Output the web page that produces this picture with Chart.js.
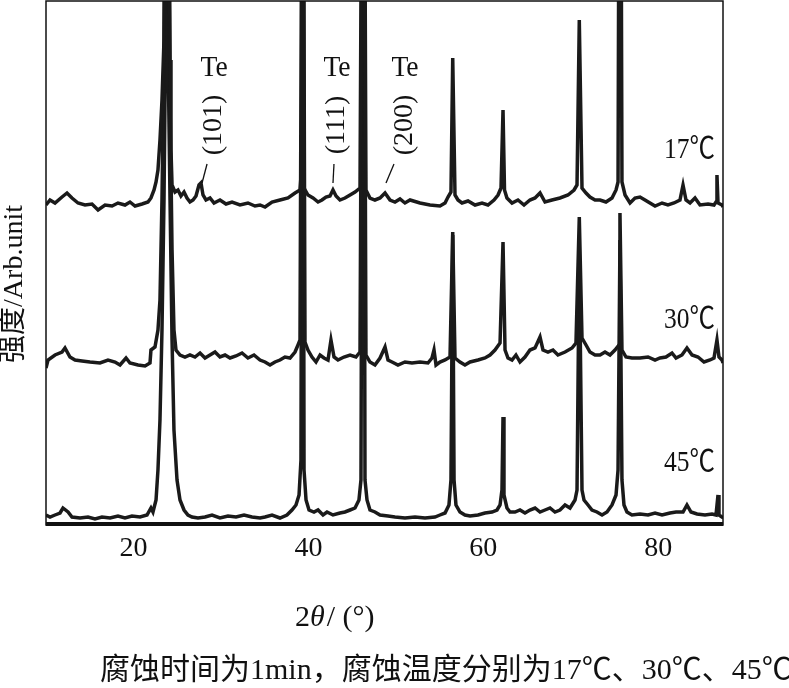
<!DOCTYPE html>
<html>
<head>
<meta charset="utf-8">
<script src="https://cdn.jsdelivr.net/npm/chart.js@4.4.0/dist/chart.umd.min.js"></script>
<style>
  html, body { margin: 0; padding: 0; background: #fff; }
</style>
</head>
<body>
<canvas id="xrd" width="789" height="688"></canvas>
<script>
// tick labels on the 2theta axis
const xTickValues = [20, 40, 60, 80];
const sampleLabels = ['17℃', '30℃', '45℃'];
const tePeaks = [27.84, 42.81, 48.87];
const teIndex = ['(101)', '(111)', '(200)'];
const yTitle = '强度/Arb.unit';
const caption = '腐蚀时间为1min，腐蚀温度分别为17℃、30℃、45℃';

// [2theta, intensity], traces already stacked
const pattern17 = [
  [10.00, 320], [10.46, 325], [11.03, 322], [11.83, 328], [12.40, 332], [12.97, 327], [13.66, 322],
  [14.46, 320], [15.26, 321], [15.95, 315], [16.75, 320], [17.55, 319], [18.23, 322], [19.03, 320],
  [19.60, 323], [20.18, 319], [20.98, 321], [21.66, 323], [22.00, 327], [22.35, 335], [22.58, 343],
  [22.80, 355], [23.03, 385], [23.26, 425], [23.49, 485], [23.72, 800], [23.83, 1000], [23.95, 800],
  [24.18, 465], [24.29, 375], [24.41, 340], [24.75, 333], [25.09, 335], [25.43, 329], [25.78, 333],
  [26.12, 327], [26.46, 323], [26.81, 325], [27.15, 329], [27.49, 340], [27.72, 342], [27.95, 330],
  [28.29, 325], [28.75, 327], [29.21, 322], [29.89, 325], [30.58, 321], [31.27, 323], [32.18, 320],
  [33.09, 322], [33.89, 319], [34.47, 320], [35.04, 318], [35.84, 323], [36.75, 325], [37.67, 327],
  [38.47, 332], [39.04, 335], [39.21, 355], [39.35, 1000], [39.50, 337], [39.95, 330], [40.53, 327],
  [41.10, 323], [41.55, 325], [42.01, 328], [42.47, 329], [42.81, 335], [43.16, 329], [43.61, 325],
  [44.18, 327], [44.76, 330], [45.33, 333], [45.90, 337], [46.28, 1000], [46.58, 335], [47.04, 327],
  [47.61, 325], [48.19, 327], [48.76, 332], [49.33, 325], [49.90, 323], [50.47, 326], [51.04, 322],
  [51.62, 325], [52.76, 322], [53.90, 320], [55.04, 319], [55.62, 322], [55.96, 328], [56.30, 333],
  [56.50, 467], [56.76, 330], [57.10, 325], [57.56, 322], [58.25, 324], [59.05, 320], [59.85, 322],
  [60.53, 320], [61.22, 325], [61.68, 330], [62.02, 337], [62.25, 415], [62.42, 335], [62.70, 327],
  [63.28, 322], [63.96, 325], [64.65, 320], [65.33, 325], [65.91, 327], [66.48, 332], [67.05, 323],
  [67.85, 325], [68.76, 327], [69.68, 330], [70.37, 335], [70.71, 340], [70.97, 505], [71.28, 337],
  [71.74, 332], [72.19, 328], [72.77, 325], [73.34, 325], [74.02, 323], [74.71, 327], [75.17, 335],
  [75.40, 343], [75.62, 1000], [75.85, 343], [76.20, 330], [76.77, 322], [77.34, 327], [77.91, 328],
  [78.48, 325], [79.05, 322], [79.63, 319], [80.43, 322], [81.11, 320], [81.80, 322], [82.48, 325],
  [82.83, 340], [83.17, 325], [83.63, 322], [84.20, 327], [84.77, 320], [85.69, 321], [86.37, 320],
  [86.60, 323], [86.71, 350], [86.83, 322], [87.28, 320], [87.40, 318]
];

const pattern30 = [
  [10.00, 157], [10.23, 165], [11.03, 170], [11.83, 173], [12.17, 177], [12.74, 168], [13.32, 165],
  [14.12, 164], [15.03, 163], [16.17, 162], [17.09, 165], [17.89, 163], [18.46, 160], [19.15, 167],
  [19.60, 162], [20.52, 160], [21.32, 159], [21.89, 162], [22.00, 175], [22.46, 178], [22.80, 195],
  [23.03, 225], [23.26, 325], [23.49, 475], [23.83, 900], [24.18, 425], [24.41, 275], [24.63, 195],
  [24.86, 175], [25.32, 170], [25.89, 168], [26.46, 170], [27.03, 168], [27.61, 172], [28.18, 167],
  [28.75, 170], [29.32, 173], [29.89, 168], [30.47, 170], [31.04, 167], [31.72, 169], [32.41, 172],
  [33.09, 167], [33.78, 170], [34.47, 165], [35.04, 163], [35.61, 160], [36.18, 163], [36.75, 165],
  [37.32, 168], [37.90, 167], [38.47, 173], [38.81, 180], [39.04, 185], [39.35, 900], [39.61, 183],
  [39.95, 175], [40.41, 168], [40.87, 163], [41.33, 170], [41.78, 167], [42.24, 165], [42.58, 185],
  [42.93, 168], [43.38, 165], [44.07, 168], [44.76, 170], [45.44, 168], [45.90, 173], [46.28, 900],
  [46.58, 170], [47.04, 163], [47.61, 160], [48.19, 167], [48.76, 178], [49.10, 165], [49.56, 163],
  [50.24, 160], [51.04, 163], [51.84, 162], [52.76, 163], [53.67, 162], [54.13, 167], [54.36, 175],
  [54.59, 160], [55.04, 163], [55.62, 165], [56.19, 168], [56.50, 293], [56.76, 167], [57.33, 163],
  [57.90, 160], [58.48, 163], [59.39, 165], [60.19, 167], [60.76, 170], [61.33, 175], [61.91, 182],
  [62.25, 283], [62.48, 175], [62.82, 167], [63.28, 165], [63.73, 170], [64.19, 163], [64.76, 168],
  [65.33, 175], [65.91, 177], [66.48, 188], [66.82, 175], [67.39, 173], [67.96, 175], [68.53, 170],
  [69.34, 173], [70.14, 177], [70.59, 182], [70.97, 308], [71.28, 187], [71.74, 180], [72.19, 173],
  [72.77, 170], [73.34, 170], [73.91, 173], [74.48, 170], [75.05, 175], [75.51, 180], [75.62, 312],
  [75.85, 175], [76.31, 168], [76.99, 167], [77.91, 167], [78.83, 168], [79.63, 165], [80.20, 167],
  [80.88, 168], [81.57, 172], [82.03, 167], [82.71, 170], [83.28, 177], [83.86, 170], [84.54, 168],
  [85.23, 163], [85.91, 165], [86.37, 167], [86.71, 185], [86.94, 168], [87.28, 165], [87.40, 162]
];

const pattern45 = [
  [10.00, 10], [10.46, 8], [11.03, 10], [11.60, 12], [11.94, 17], [12.52, 13], [12.97, 8],
  [13.89, 7], [14.80, 8], [15.60, 6], [16.40, 8], [17.32, 7], [18.23, 9], [19.03, 7], [19.83, 9],
  [20.75, 8], [21.55, 10], [22.00, 17], [22.23, 13], [22.58, 25], [22.80, 55], [23.03, 105],
  [23.26, 195], [23.49, 325], [23.72, 525], [23.83, 900], [23.95, 475], [24.18, 325], [24.41, 185],
  [24.63, 95], [24.98, 45], [25.32, 25], [25.78, 15], [26.23, 10], [26.69, 8], [27.38, 7], [28.18, 8],
  [28.98, 10], [29.89, 7], [30.81, 9], [31.72, 8], [32.64, 10], [33.55, 8], [34.47, 7], [35.04, 8],
  [35.84, 10], [36.75, 7], [37.55, 10], [38.12, 15], [38.58, 20], [38.93, 30], [39.15, 65],
  [39.35, 900], [39.50, 55], [39.73, 25], [40.07, 15], [40.64, 13], [41.10, 15], [41.67, 10],
  [42.13, 13], [42.81, 10], [43.61, 12], [44.18, 13], [44.76, 15], [45.33, 17], [45.78, 25],
  [46.01, 45], [46.28, 900], [46.47, 45], [46.70, 25], [47.04, 15], [47.61, 13], [48.19, 10],
  [49.10, 9], [49.90, 8], [51.04, 7], [52.19, 8], [53.33, 7], [54.47, 8], [55.04, 10], [55.62, 12],
  [56.07, 20], [56.30, 45], [56.50, 290], [56.65, 45], [56.87, 20], [57.33, 13], [57.90, 10],
  [58.48, 9], [59.39, 10], [60.19, 12], [60.99, 13], [61.56, 15], [61.91, 20], [62.13, 35],
  [62.25, 108], [62.36, 30], [62.70, 17], [63.05, 13], [63.62, 13], [64.19, 15], [64.76, 12],
  [65.33, 15], [65.91, 17], [66.48, 13], [67.05, 15], [67.62, 17], [68.19, 13], [68.76, 15],
  [69.34, 20], [69.91, 17], [70.48, 25], [70.71, 35], [70.97, 275], [71.28, 35], [71.51, 25],
  [71.97, 20], [72.42, 15], [72.99, 13], [73.57, 10], [74.14, 13], [74.71, 20], [75.17, 30],
  [75.40, 55], [75.62, 285], [75.85, 45], [76.08, 20], [76.42, 13], [76.99, 10], [77.91, 11],
  [78.83, 10], [79.63, 12], [80.43, 10], [81.34, 12], [82.03, 13], [82.83, 13], [83.28, 20],
  [83.74, 13], [84.43, 11], [85.34, 10], [86.14, 11], [86.60, 10], [86.83, 30], [86.94, 10],
  [87.28, 8], [87.40, 9]
];

const serif = "'Liberation Serif', 'Noto Sans CJK SC', serif";

function squishText(ctx, text, x, y, size, sx, align, angle) {
  ctx.save();
  ctx.translate(x, y);
  if (angle) ctx.rotate(angle);
  ctx.scale(sx, 1);
  ctx.font = size + 'px ' + serif;
  ctx.textAlign = align || 'center';
  ctx.textBaseline = 'middle';
  ctx.fillText(text, 0, 0);
  ctx.restore();
}

const decorations = {
  id: 'decorations',
  afterDatasetsDraw(chart) {
    const { ctx, chartArea: a, scales: { x, y } } = chart;
    ctx.save();
    ctx.strokeStyle = '#111';
    ctx.fillStyle = '#111';
    // frame
    ctx.lineWidth = 1.5;
    ctx.strokeRect(a.left, a.top, a.right - a.left, a.bottom - a.top);
    ctx.lineWidth = 4;
    ctx.beginPath();
    ctx.moveTo(a.left, a.bottom - 1);
    ctx.lineTo(a.right, a.bottom - 1);
    ctx.stroke();

    // Te peak labels
    const lean = [5, 1, 8];
    const shift = [12, 4, 19];
    ctx.lineWidth = 1.3;
    tePeaks.forEach((deg, i) => {
      const px = x.getPixelForValue(deg);
      ctx.beginPath();
      ctx.moveTo(px, y.getPixelForValue(342));
      ctx.lineTo(px + lean[i], y.getPixelForValue(361));
      ctx.stroke();
      squishText(ctx, 'Te', px + shift[i], 68, 30, 0.92, 'center');
      squishText(ctx, teIndex[i], px + shift[i], 125, 28, 1, 'center', -Math.PI / 2);
    });

    // sample temperatures
    const tempY = [375, 205, 62];
    sampleLabels.forEach((t, i) => {
      squishText(ctx, t, a.right - 8, y.getPixelForValue(tempY[i]), 30, 0.85, 'right');
    });
    ctx.restore();
  },
  afterDraw(chart) {
    const { ctx } = chart;
    ctx.save();
    ctx.fillStyle = '#111';
    squishText(ctx, yTitle, 15, 284, 28, 1, 'center', -Math.PI / 2);
    // axis title 2θ/(°)
    ctx.font = '30px ' + serif;
    ctx.textBaseline = 'middle';
    ctx.textAlign = 'left';
    let cx = 295;
    ctx.fillText('2', cx, 618);
    cx += ctx.measureText('2').width;
    ctx.font = 'italic 30px ' + serif;
    ctx.fillText('θ', cx, 618);
    cx += ctx.measureText('θ').width + 2;
    ctx.font = '30px ' + serif;
    ctx.fillText('/ (°)', cx, 618);
    // caption
    squishText(ctx, caption, 100, 671, 30, 1, 'left');
    ctx.restore();
  }
};

const traceStyle = { borderColor: '#1a1a1a', borderWidth: 3.5, pointRadius: 0, tension: 0, fill: false, clip: 0 };
const toXY = arr => arr.map(p => ({ x: p[0], y: p[1] }));

new Chart(document.getElementById('xrd'), {
  type: 'line',
  data: {
    datasets: [
      Object.assign({ label: sampleLabels[0], data: toXY(pattern17) }, traceStyle),
      Object.assign({ label: sampleLabels[1], data: toXY(pattern30) }, traceStyle),
      Object.assign({ label: sampleLabels[2], data: toXY(pattern45) }, traceStyle)
    ]
  },
  options: {
    responsive: false,
    animation: false,
    layout: { padding: { left: 46, right: 66, top: 1, bottom: 123 } },
    plugins: { legend: { display: false }, tooltip: { enabled: false } },
    scales: {
      x: {
        type: 'linear',
        min: 10,
        max: 87.4,
        grid: { display: false, drawTicks: false },
        border: { display: false },
        afterBuildTicks: s => { s.ticks = xTickValues.map(v => ({ value: v })); },
        afterFit: s => { s.height = 40; },
        ticks: { color: '#111', padding: 7, font: { family: serif, size: 28 } }
      },
      y: { type: 'linear', min: 0, max: 524, display: false }
    }
  },
  plugins: [decorations]
});
</script>
</body>
</html>
